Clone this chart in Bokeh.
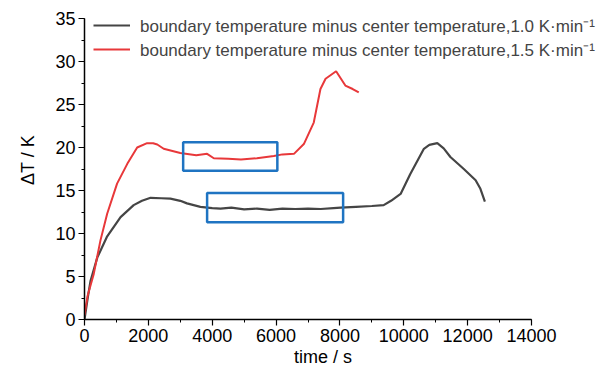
from bokeh.plotting import figure
from bokeh.models import Range1d, Legend, LegendItem, FixedTicker
from bokeh.embed import file_html
from bokeh.resources import INLINE

black_t = [0, 100, 190, 400, 700, 1130, 1540, 1800, 2070, 2400, 2690, 3000, 3210, 3630, 4000, 4260,
           4600, 5000, 5400, 5800, 6200, 6600, 7000, 7400, 7800, 8020, 8500, 9000, 9370, 9600, 9900,
           10200, 10630, 10800, 11050, 11250, 11460, 11880, 12250, 12400, 12540]
black_v = [0, 2.5, 4.5, 7.2, 9.6, 11.9, 13.3, 13.8, 14.15, 14.1, 14.05, 13.8, 13.5, 13.1, 12.95, 12.9,
           13.0, 12.8, 12.9, 12.75, 12.9, 12.85, 12.9, 12.85, 12.95, 13.0, 13.1, 13.2, 13.3, 13.8, 14.6,
           16.9, 19.85, 20.3, 20.5, 19.9, 18.9, 17.5, 16.2, 15.2, 13.7]

red_t = [0, 100, 290, 500, 710, 1020, 1340, 1650, 1960, 2150, 2280, 2480, 3000, 3500, 3840, 4050,
         4500, 4900, 5400, 5930, 6200, 6560, 6870, 7180, 7390, 7550, 7880, 8170, 8400, 8590]
red_v = [0.5, 2.8, 5.3, 9.2, 12.3, 15.8, 18.1, 20.0, 20.5, 20.5, 20.35, 19.85, 19.35, 19.1, 19.26, 18.75,
         18.7, 18.6, 18.75, 19.0, 19.2, 19.26, 20.4, 22.9, 26.8, 28.0, 28.87, 27.2, 26.8, 26.4]

box_left = [3090, 3840]
box_right = [6040, 8100]
box_bottom = [17.3, 11.3]
box_top = [20.6, 14.7]

x_ticks = list(range(0, 14001, 2000))
x_minor = list(range(0, 14001, 1000))
y_ticks = list(range(0, 36, 5))
y_minor = [i * 2.5 for i in range(15)]

labels = ["boundary temperature minus center temperature,1.0 K\u00b7min\u207b\u00b9",
          "boundary temperature minus center temperature,1.5 K\u00b7min\u207b\u00b9"]

FONT = "'Liberation Sans', Arial, sans-serif"

# frame spans the whole width/top; axes are bounded to the data extent
X_MAX, Y_MAX = 14000, 35
x_end = X_MAX * (606 - 84) / (531 - 84)
y_end = Y_MAX * 319 / (319 - 18)

p = figure(width=606, height=370, output_backend="svg", toolbar_location=None,
           x_range=Range1d(0, x_end), y_range=Range1d(0, y_end),
           min_border_left=84, min_border_right=0, min_border_top=0, min_border_bottom=51)
p.outline_line_color = None
p.grid.visible = False
p.background_fill_color = "white"

r1 = p.line(black_t, black_v, line_color="#454545", line_width=2.2)
r2 = p.line(red_t, red_v, line_color="#e8383a", line_width=2)
p.quad(left=box_left, right=box_right, bottom=box_bottom, top=box_top,
       fill_color=None, line_color="#1f74c2", line_width=2.5)

p.xaxis.ticker = FixedTicker(ticks=x_ticks, minor_ticks=x_minor)
p.yaxis.ticker = FixedTicker(ticks=y_ticks, minor_ticks=y_minor)
p.xaxis.bounds = (0, X_MAX)
p.yaxis.bounds = (0, Y_MAX)

for ax in (p.xaxis[0], p.yaxis[0]):
    ax.axis_line_color = "black"
    ax.axis_line_width = 1.5
    ax.major_tick_line_color = "black"
    ax.minor_tick_line_color = "black"
    ax.major_tick_line_width = 1.2
    ax.minor_tick_line_width = 1
    ax.major_tick_out = 6
    ax.major_tick_in = 0
    ax.minor_tick_out = 3
    ax.minor_tick_in = 0
    ax.major_label_text_font = FONT
    ax.major_label_text_font_size = "18px"
    ax.major_label_text_color = "black"
    ax.axis_label_text_font = FONT
    ax.axis_label_text_font_size = "18px"
    ax.axis_label_text_font_style = "normal"
    ax.axis_label_text_color = "black"

# trailing no-break spaces shift the centred title left to sit where the reference has it
p.xaxis.axis_label = "time / s" + "\u00a0" * 9
p.xaxis.axis_label_standoff = 2
p.xaxis.major_label_standoff = 3
p.yaxis.axis_label = "\u0394T / K"
p.yaxis.axis_label_standoff = 14
p.yaxis.major_label_standoff = 3

legend = Legend(items=[LegendItem(label=labels[0], renderers=[r1]),
                       LegendItem(label=labels[1], renderers=[r2])],
                location=(9, 258), padding=0, margin=0, spacing=0,
                glyph_width=37, glyph_height=24, label_height=24, label_standoff=10,
                label_text_font=FONT, label_text_font_size="17px",
                border_line_color=None, background_fill_alpha=0)
p.add_layout(legend, "center")

open("out.html", "w").write(file_html(p, INLINE))
